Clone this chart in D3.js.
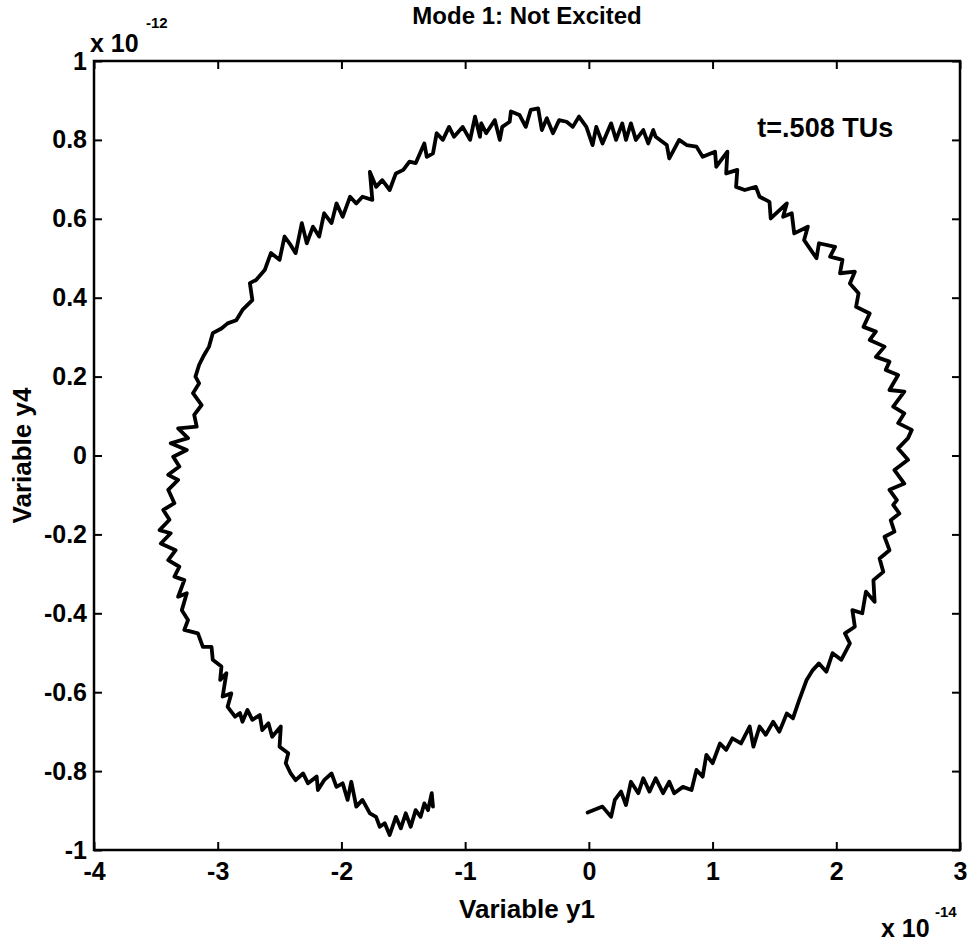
<!DOCTYPE html>
<html>
<head>
<meta charset="utf-8">
<script src="https://cdn.jsdelivr.net/npm/d3@7"></script>
<style>
  body { margin: 0; background: #fff; }
  svg { display: block; font-family: 'Liberation Sans', Arial, Helvetica, sans-serif; font-weight: bold; }
</style>
</head>
<body>
<svg width="971" height="946"></svg>
<script>
// Mode 1 trajectory, y1 in units of 1e-14, y4 in units of 1e-12
const y1 = [
  -0.01, 0.11, 0.18, 0.21, 0.26, 0.30, 0.34, 0.40, 0.44, 0.49, 0.54, 0.60, 0.65, 0.69, 0.76, 0.83, 0.87, 0.92, 0.95, 1.00,
  1.06, 1.11, 1.16, 1.23, 1.30, 1.33, 1.38, 1.43, 1.49, 1.54, 1.60, 1.65, 1.70, 1.76, 1.81, 1.86, 1.92, 1.97, 2.04, 2.11,
  2.07, 2.15, 2.13, 2.21, 2.24, 2.31, 2.30, 2.38, 2.35, 2.43, 2.39, 2.47, 2.44, 2.51, 2.46,
  2.49, 2.43, 2.55, 2.47, 2.58, 2.50, 2.58, 2.61, 2.50, 2.55, 2.46, 2.55, 2.43, 2.50, 2.40, 2.43,
  2.32, 2.39, 2.27, 2.32, 2.22, 2.27, 2.16, 2.18, 2.11, 2.15, 2.03, 2.05, 1.95, 1.99, 1.86, 1.84,
  1.74, 1.77, 1.66, 1.64, 1.57, 1.60, 1.47, 1.46, 1.38, 1.35, 1.26, 1.19, 1.20, 1.11,
  1.12, 1.03, 1.02, 0.92, 0.87, 0.79, 0.73, 0.65, 0.63, 0.54, 0.52, 0.48, 0.44, 0.38,
  0.34, 0.30, 0.27, 0.22, 0.18, 0.11, 0.06, 0.03, -0.02, -0.08, -0.13, -0.18, -0.24, -0.29,
  -0.34, -0.38, -0.41, -0.47, -0.51, -0.56, -0.63, -0.64, -0.70, -0.72, -0.76, -0.83, -0.87,
  -0.88, -0.92, -0.96, -1.02, -1.09, -1.13, -1.18, -1.23, -1.26, -1.31, -1.33, -1.40, -1.45, -1.50, -1.56, -1.61,
  -1.67, -1.72, -1.77, -1.75, -1.83, -1.88, -1.93, -1.99, -2.04, -2.08, -2.14, -2.18, -2.23, -2.28, -2.32, -2.37,
  -2.42, -2.46, -2.50, -2.57, -2.62, -2.69, -2.74, -2.72, -2.80, -2.85, -2.92, -2.97, -3.04, -3.07, -3.11, -3.15, -3.18,
  -3.15, -3.20, -3.13, -3.19, -3.17, -3.32, -3.24, -3.38, -3.25, -3.36, -3.31, -3.40, -3.32, -3.40, -3.35, -3.44,
  -3.39, -3.47, -3.38, -3.46, -3.34, -3.40, -3.31, -3.35, -3.27, -3.32, -3.25, -3.29, -3.24, -3.27, -3.16, -3.12,
  -3.05, -3.04, -2.97, -2.98, -2.93, -2.96, -2.89, -2.92, -2.86, -2.82, -2.80, -2.76, -2.72, -2.66, -2.64, -2.59, -2.56,
  -2.49, -2.50, -2.43, -2.45, -2.41, -2.37, -2.31, -2.27, -2.20, -2.19, -2.14, -2.08, -2.04, -1.99, -1.95, -1.92, -1.88,
  -1.83, -1.77, -1.72, -1.69, -1.65, -1.61, -1.56, -1.52, -1.48, -1.44, -1.40, -1.36, -1.33, -1.30, -1.27, -1.26
]
const y4 = [
  -0.905, -0.89, -0.916, -0.873, -0.852, -0.886, -0.827, -0.856, -0.818, -0.852, -0.818, -0.856, -0.827, -0.856, -0.840, -0.848, -0.797, -0.814, -0.759, -0.780,
  -0.730, -0.746, -0.717, -0.730, -0.687, -0.738, -0.687, -0.708, -0.675, -0.700, -0.654, -0.666, -0.620, -0.569, -0.544, -0.527, -0.548, -0.501, -0.518, -0.476,
  -0.451, -0.434, -0.392, -0.400, -0.345, -0.371, -0.316, -0.295, -0.261, -0.240, -0.206, -0.193, -0.164, -0.147, -0.125,
  -0.113, -0.087, -0.071, -0.037, -0.011, 0.018, 0.044, 0.065, 0.082, 0.107, 0.124, 0.162, 0.166, 0.204, 0.217, 0.238,
  0.250, 0.276, 0.293, 0.314, 0.326, 0.360, 0.377, 0.411, 0.436, 0.466, 0.462, 0.496, 0.504, 0.529, 0.538, 0.500,
  0.546, 0.580, 0.563, 0.614, 0.605, 0.639, 0.601, 0.643, 0.656, 0.681, 0.673, 0.681, 0.724, 0.715,
  0.770, 0.732, 0.770, 0.757, 0.783, 0.787, 0.800, 0.753, 0.787, 0.808, 0.825, 0.791, 0.825, 0.800,
  0.842, 0.800, 0.842, 0.800, 0.842, 0.791, 0.833, 0.787, 0.833, 0.859, 0.833, 0.846, 0.850, 0.817,
  0.855, 0.825, 0.880, 0.876, 0.833, 0.863, 0.872, 0.846, 0.833, 0.800, 0.850, 0.817, 0.842,
  0.808, 0.859, 0.800, 0.833, 0.808, 0.833, 0.800, 0.817, 0.766, 0.757, 0.791, 0.741, 0.745, 0.724, 0.715, 0.673,
  0.698, 0.681, 0.719, 0.648, 0.656, 0.639, 0.656, 0.605, 0.639, 0.589, 0.614, 0.555, 0.580, 0.538, 0.589, 0.513,
  0.538, 0.555, 0.496, 0.513, 0.470, 0.445, 0.437, 0.394, 0.369, 0.343, 0.335, 0.322, 0.310, 0.276, 0.255, 0.230, 0.200,
  0.183, 0.158, 0.128, 0.103, 0.073, 0.069, 0.044, 0.031, 0.014, -0.003, -0.028, -0.049, -0.062, -0.087, -0.121, -0.138,
  -0.163, -0.189, -0.197, -0.223, -0.240, -0.265, -0.282, -0.307, -0.316, -0.358, -0.349, -0.392, -0.417, -0.442, -0.451, -0.485,
  -0.485, -0.518, -0.535, -0.569, -0.552, -0.611, -0.603, -0.637, -0.662, -0.653, -0.675, -0.645, -0.670, -0.658, -0.696, -0.679, -0.713,
  -0.687, -0.738, -0.755, -0.780, -0.806, -0.823, -0.806, -0.831, -0.814, -0.848, -0.823, -0.806, -0.840, -0.831, -0.873, -0.827, -0.890,
  -0.873, -0.907, -0.916, -0.941, -0.932, -0.962, -0.916, -0.945, -0.907, -0.941, -0.899, -0.916, -0.882, -0.899, -0.856, -0.890
]

const xTicks = [-4, -3, -2, -1, 0, 1, 2, 3]
const yTicks = [-1, -0.8, -0.6, -0.4, -0.2, 0, 0.2, 0.4, 0.6, 0.8, 1]

const svg = d3.select('svg')
const margin = { top: 61, right: 11, bottom: 96, left: 94 }
const width = svg.attr('width') - margin.left - margin.right
const height = svg.attr('height') - margin.top - margin.bottom

const g = svg.append('g')
  .attr('transform', 'translate(' + margin.left + ',' + margin.top + ')')

const x = d3.scaleLinear().domain([-4, 3]).range([0, width])
const y = d3.scaleLinear().domain([-1, 1]).range([height, 0])

const fmt = d => String(+d.toFixed(1))
const tick = 8

const styleAxis = sel => {
  sel.select('.domain').remove()
  sel.selectAll('line').attr('stroke', '#000').attr('stroke-width', 2)
  sel.selectAll('text')
    .attr('fill', '#000')
    .style('font-size', '25px')
    .style('font-family', "'Liberation Sans', Arial, sans-serif")
    .style('font-weight', 'bold')
}

g.append('g')
  .attr('transform', 'translate(0,' + height + ')')
  .call(d3.axisBottom(x).tickValues(xTicks).tickFormat(fmt).tickSizeInner(-tick).tickSizeOuter(0).tickPadding(12))
  .call(styleAxis)

g.append('g')
  .call(d3.axisTop(x).tickValues(xTicks).tickFormat('').tickSizeInner(-tick).tickSizeOuter(0))
  .call(styleAxis)

g.append('g')
  .call(d3.axisLeft(y).tickValues(yTicks).tickFormat(fmt).tickSizeInner(-tick).tickSizeOuter(0).tickPadding(7))
  .call(styleAxis)

g.append('g')
  .attr('transform', 'translate(' + width + ',0)')
  .call(d3.axisRight(y).tickValues(yTicks).tickFormat('').tickSizeInner(-tick).tickSizeOuter(0))
  .call(styleAxis)

g.append('rect')
  .attr('width', width)
  .attr('height', height)
  .attr('fill', 'none')
  .attr('stroke', '#000')
  .attr('stroke-width', 2.5)

const points = d3.range(Math.min(y1.length, y4.length)).map(i => [y1[i], y4[i]])

g.append('path')
  .datum(points)
  .attr('fill', 'none')
  .attr('stroke', '#000')
  .attr('stroke-width', 3.8)
  .attr('stroke-linejoin', 'round')
  .attr('stroke-linecap', 'round')
  .attr('d', d3.line().x(d => x(d[0])).y(d => y(d[1])))

// labels
svg.append('text')
  .attr('x', margin.left + width / 2)
  .attr('y', 24)
  .attr('text-anchor', 'middle')
  .style('font-size', '24px')
  .text('Mode 1: Not Excited')

svg.append('text')
  .attr('x', margin.left + width / 2)
  .attr('y', 918)
  .attr('text-anchor', 'middle')
  .style('font-size', '26px')
  .text('Variable y1')

svg.append('text')
  .attr('transform', 'translate(31,' + (margin.top + height / 2) + ') rotate(-90)')
  .attr('text-anchor', 'middle')
  .style('font-size', '26px')
  .text('Variable y4')

g.append('text')
  .attr('x', x(2.46))
  .attr('y', y(0.807))
  .attr('text-anchor', 'end')
  .style('font-size', '27px')
  .text('t=.508 TUs')

// exponent labels
svg.append('text').attr('x', 90).attr('y', 52).style('font-size', '25px').text('x 10')
svg.append('text').attr('x', 146).attr('y', 28).style('font-size', '15px').text('-12')
svg.append('text').attr('x', 881).attr('y', 937).style('font-size', '25px').text('x 10')
svg.append('text').attr('x', 935).attr('y', 917).style('font-size', '15px').text('-14')
</script>
</body>
</html>
